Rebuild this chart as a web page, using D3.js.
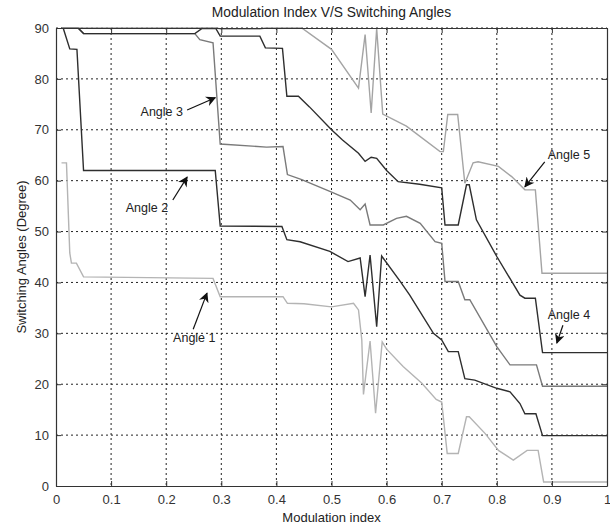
<!DOCTYPE html>
<html>
<head>
<meta charset="utf-8">
<script src="https://cdn.jsdelivr.net/npm/d3@7"></script>
<style>
  body { margin: 0; background: #fff; }
  svg { font-family: "Liberation Sans", Arial, sans-serif; }
</style>
</head>
<body>
<div id="chart"></div>
<script>
// tick values
const xTicks = [0, 0.1, 0.2, 0.3, 0.4, 0.5, 0.6, 0.7, 0.8, 0.9, 1];
const yTicks = [0, 10, 20, 30, 40, 50, 60, 70, 80, 90];

// [modulation index, angle in degrees]
const angle1 = [[0.01,63.5],[0.019,63.5],[0.025,45.8],[0.028,43.8],[0.037,43.8],[0.05,41.1],[0.285,40.8],[0.298,37.2],
  [0.412,37.2],[0.42,35.9],[0.45,35.8],[0.5,35.2],[0.54,35.9],[0.549,34.6],[0.555,28.7],[0.558,18],[0.57,28.5],
  [0.58,14.3],[0.592,28.3],[0.6,26.9],[0.63,23.5],[0.664,20.2],[0.69,17],[0.7,16.5],[0.71,6.4],[0.73,6.4],
  [0.745,13.6],[0.75,13.6],[0.779,10.3],[0.803,7],[0.83,5.1],[0.855,7],[0.875,7],[0.885,0.8],[1,0.8]];
const angle2 = [[0.01,90],[0.013,90],[0.025,85.9],[0.038,85.8],[0.05,62],[0.289,62],[0.298,51.1],[0.41,51],
  [0.419,48.4],[0.443,48],[0.497,46.1],[0.53,44.1],[0.552,44.8],[0.561,37.2],[0.57,45.4],[0.582,31.3],
  [0.591,45.2],[0.624,40.3],[0.642,37.5],[0.685,30],[0.7,28.7],[0.712,26.4],[0.73,26.4],[0.742,21.1],
  [0.76,20.8],[0.8,19.2],[0.824,18.5],[0.842,16.2],[0.851,14.2],[0.871,14.2],[0.883,9.9],[1,9.9]];
const angle3 = [[0.01,90],[0.04,90],[0.05,88.9],[0.252,88.9],[0.261,87.7],[0.285,87.1],[0.298,67.2],[0.382,66.6],
  [0.412,66.7],[0.42,61.2],[0.446,60.2],[0.497,57.9],[0.534,56.2],[0.552,54.3],[0.561,55.4],[0.57,51.3],
  [0.594,51.3],[0.618,52.6],[0.636,53],[0.661,51.6],[0.688,48],[0.7,47.7],[0.706,40.2],[0.73,40.2],
  [0.742,36.6],[0.751,36.6],[0.8,27.4],[0.824,23.8],[0.872,23.8],[0.883,19.6],[1,19.6]];
const angle4 = [[0.01,90],[0.04,90],[0.05,88.9],[0.252,88.9],[0.265,89.9],[0.29,89.9],[0.298,88.4],[0.37,88.4],
  [0.38,86.1],[0.411,86],[0.419,76.6],[0.44,76.6],[0.46,74.5],[0.5,70],[0.52,68],[0.549,65.4],[0.561,63.8],
  [0.572,64.6],[0.582,64.4],[0.6,62],[0.621,59.8],[0.66,59.3],[0.7,58.6],[0.706,51.3],[0.73,51.3],[0.745,59.2],
  [0.75,59.2],[0.763,52.3],[0.8,45.1],[0.842,37.5],[0.851,36.9],[0.87,36.9],[0.883,26.2],[1,26.2]];
const angle5 = [[0.01,90],[0.29,90],[0.3,89.8],[0.37,89.8],[0.38,90],[0.446,90],[0.5,85.8],[0.549,78.2],[0.561,88.7],
  [0.572,73.3],[0.582,89.9],[0.593,73.1],[0.636,70.7],[0.697,65.7],[0.703,65.7],[0.711,73],[0.729,73],
  [0.742,59.5],[0.757,63.5],[0.766,63.7],[0.803,62.8],[0.827,60.8],[0.851,58.2],[0.87,58.2],[0.882,41.8],[1,41.8]];

const series = [
  { data: angle1, color: "#b4b4b4" },
  { data: angle2, color: "#2e2e2e" },
  { data: angle3, color: "#7a7a7a" },
  { data: angle4, color: "#2e2e2e" },
  { data: angle5, color: "#a4a4a4" }
];

// label text position and arrow tail/head, in data units
const notes = [
  { text: "Angle 1", tx: 0.251, ty: 29.1, x1: 0.249, y1: 30.8, x2: 0.274, y2: 37.9 },
  { text: "Angle 2", tx: 0.165, ty: 54.8, x1: 0.212, y1: 56.2, x2: 0.238, y2: 60.7 },
  { text: "Angle 3", tx: 0.192, ty: 73.5, x1: 0.238, y1: 73.9, x2: 0.289, y2: 76.3 },
  { text: "Angle 5", tx: 0.931, ty: 65.1, x1: 0.887, y1: 63.7, x2: 0.851, y2: 58.8 },
  { text: "Angle 4", tx: 0.931, ty: 33.6, x1: 0.92, y1: 31.6, x2: 0.909, y2: 28.1 }
];

const W = 610, H = 527;
const margin = { top: 28, right: 3, bottom: 41, left: 56 };
const width = W - margin.left - margin.right,
    height = H - margin.top - margin.bottom;

const svg = d3.select("#chart").append("svg")
    .attr("width", W)
    .attr("height", H);

svg.append("defs").append("marker")
    .attr("id", "head")
    .attr("viewBox", "0 0 10 10")
    .attr("refX", 9).attr("refY", 5)
    .attr("markerWidth", 12).attr("markerHeight", 10)
    .attr("markerUnits", "userSpaceOnUse")
    .attr("orient", "auto")
  .append("path")
    .attr("d", "M0,0 L10,5 L0,10 L3,5 Z")
    .attr("fill", "#111");

const g = svg.append("g")
    .attr("transform", "translate(" + margin.left + "," + margin.top + ")");

const x = d3.scaleLinear().domain([0, 1]).range([0, width]);
const y = d3.scaleLinear().domain([0, 90]).range([height, 0]);

// dotted grid
g.append("g").selectAll("line").data(xTicks.slice(1, -1)).join("line")
    .attr("x1", d => x(d)).attr("x2", d => x(d))
    .attr("y1", 0).attr("y2", height)
    .attr("stroke", "#222").attr("stroke-dasharray", "2,3");
g.append("g").selectAll("line").data(yTicks.slice(1)).join("line")
    .attr("x1", 0).attr("x2", width)
    .attr("y1", d => y(d)).attr("y2", d => y(d))
    .attr("stroke", "#222").attr("stroke-dasharray", "2,3");

// curves
const line = d3.line().x(d => x(d[0])).y(d => y(d[1]));
g.append("g").selectAll("path").data(series).join("path")
    .attr("fill", "none")
    .attr("stroke", d => d.color)
    .attr("stroke-width", 1.4)
    .attr("d", d => line(d.data));

// axes, ticks pointing inwards like the original
g.append("g")
    .attr("transform", "translate(0," + height + ")")
    .call(d3.axisBottom(x).tickValues(xTicks).tickFormat(d3.format("")).tickSizeInner(-5).tickSizeOuter(0).tickPadding(9));
g.append("g")
    .call(d3.axisLeft(y).tickValues(yTicks).tickSizeInner(-5).tickSizeOuter(0).tickPadding(7));
g.append("g").call(d3.axisTop(x).tickValues(xTicks).tickFormat("").tickSizeInner(-5).tickSizeOuter(0));
g.append("g").attr("transform", "translate(" + width + ",0)")
    .call(d3.axisRight(y).tickValues(yTicks).tickFormat("").tickSizeInner(-5).tickSizeOuter(0));

g.selectAll(".domain").attr("stroke", "#333").attr("stroke-width", 1.2);
g.selectAll(".tick line").attr("stroke", "#333");
g.selectAll(".tick text").attr("font-size", 13).attr("fill", "#333")
    .attr("font-family", "Liberation Sans, Arial, sans-serif");

// annotations
const ann = g.append("g");
ann.selectAll("line").data(notes).join("line")
    .attr("x1", d => x(d.x1)).attr("y1", d => y(d.y1))
    .attr("x2", d => x(d.x2)).attr("y2", d => y(d.y2))
    .attr("stroke", "#111").attr("stroke-width", 1.2)
    .attr("marker-end", "url(#head)");
ann.selectAll("text").data(notes).join("text")
    .attr("x", d => x(d.tx)).attr("y", d => y(d.ty))
    .attr("dy", "0.35em")
    .attr("text-anchor", "middle")
    .attr("font-size", 12.5).attr("fill", "#222")
    .text(d => d.text);

// titles
svg.append("text")
    .attr("x", margin.left + width / 2).attr("y", 17)
    .attr("text-anchor", "middle").attr("font-size", 13.8).attr("fill", "#222")
    .text("Modulation Index V/S Switching Angles");
svg.append("text")
    .attr("x", margin.left + width / 2).attr("y", 522)
    .attr("text-anchor", "middle").attr("font-size", 13).attr("fill", "#222")
    .text("Modulation index");
svg.append("text")
    .attr("transform", "translate(26," + (margin.top + height / 2) + ") rotate(-90)")
    .attr("text-anchor", "middle").attr("font-size", 13).attr("fill", "#222")
    .text("Switching Angles (Degree)");
</script>
</body>
</html>
